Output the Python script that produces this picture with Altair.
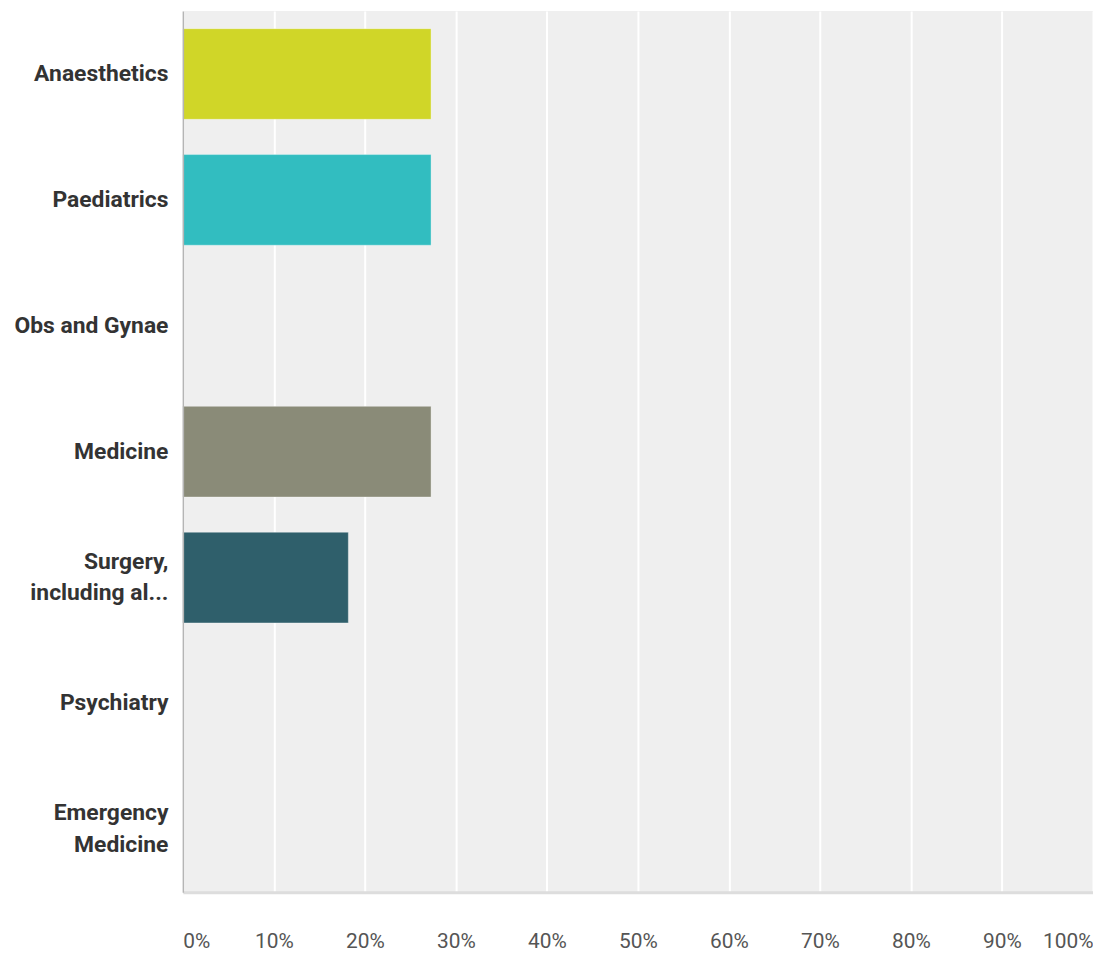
import altair as alt
import pandas as pd

categories = ["Anaesthetics", "Paediatrics", "Obs and Gynae", "Medicine",
              "Surgery,|including al...", "Psychiatry", "Emergency|Medicine"]
values = [27.27, 27.27, 0.0, 27.27, 18.18, 0.0, 0.0]
colors = ["#d0d628", "#32bdc0", "#cccccc", "#8a8b78", "#2f5f6b", "#cccccc", "#cccccc"]
x_ticks = [0, 10, 20, 30, 40, 50, 60, 70, 80, 90, 100]

df = pd.DataFrame({"cat": categories, "val": values, "color": colors})

FONT = "Roboto, Arial"

chart = alt.Chart(df).mark_bar(stroke="#ffffff", strokeOpacity=0.35, strokeWidth=1).encode(
    y=alt.Y("cat:N", sort=categories,
            scale=alt.Scale(paddingInner=0.28, paddingOuter=0.14),
            axis=alt.Axis(title=None, ticks=False, domain=True, domainColor="#b5b5b5",
                          domainWidth=1.5, labelFont=FONT, labelFontWeight="bold",
                          labelFontSize=23, labelColor="#333333", labelPadding=15,
                          labelLineHeight=32, labelLimit=300, zindex=1,
                          labelOffset={"condition": {"test": "indexof(datum.value, '|') >= 0",
                                                     "value": -16},
                                       "value": 0},
                          labelExpr="split(datum.label, '|')")),
    x=alt.X("val:Q", scale=alt.Scale(domain=[0, 100], nice=False),
            axis=alt.Axis(title=None, values=x_ticks, ticks=False, domain=True,
                          domainColor="#dddddd", domainWidth=3,
                          grid=True, gridColor="#ffffff", gridWidth=2,
                          labelFont=FONT, labelFontSize=21, labelColor="#555555",
                          labelPadding=39, labelFlush=True,
                          labelExpr="datum.value + '%'")),
    color=alt.Color("color:N", scale=None, legend=None),
).properties(
    width=916, height=887,
    autosize=alt.AutoSizeParams(type="none"),
    padding={"left": 176, "top": 0, "right": 0, "bottom": 60},
).configure_view(fill="#efefef", stroke=None)

chart.save("out.html", embed_options={"renderer": "svg", "actions": False})
